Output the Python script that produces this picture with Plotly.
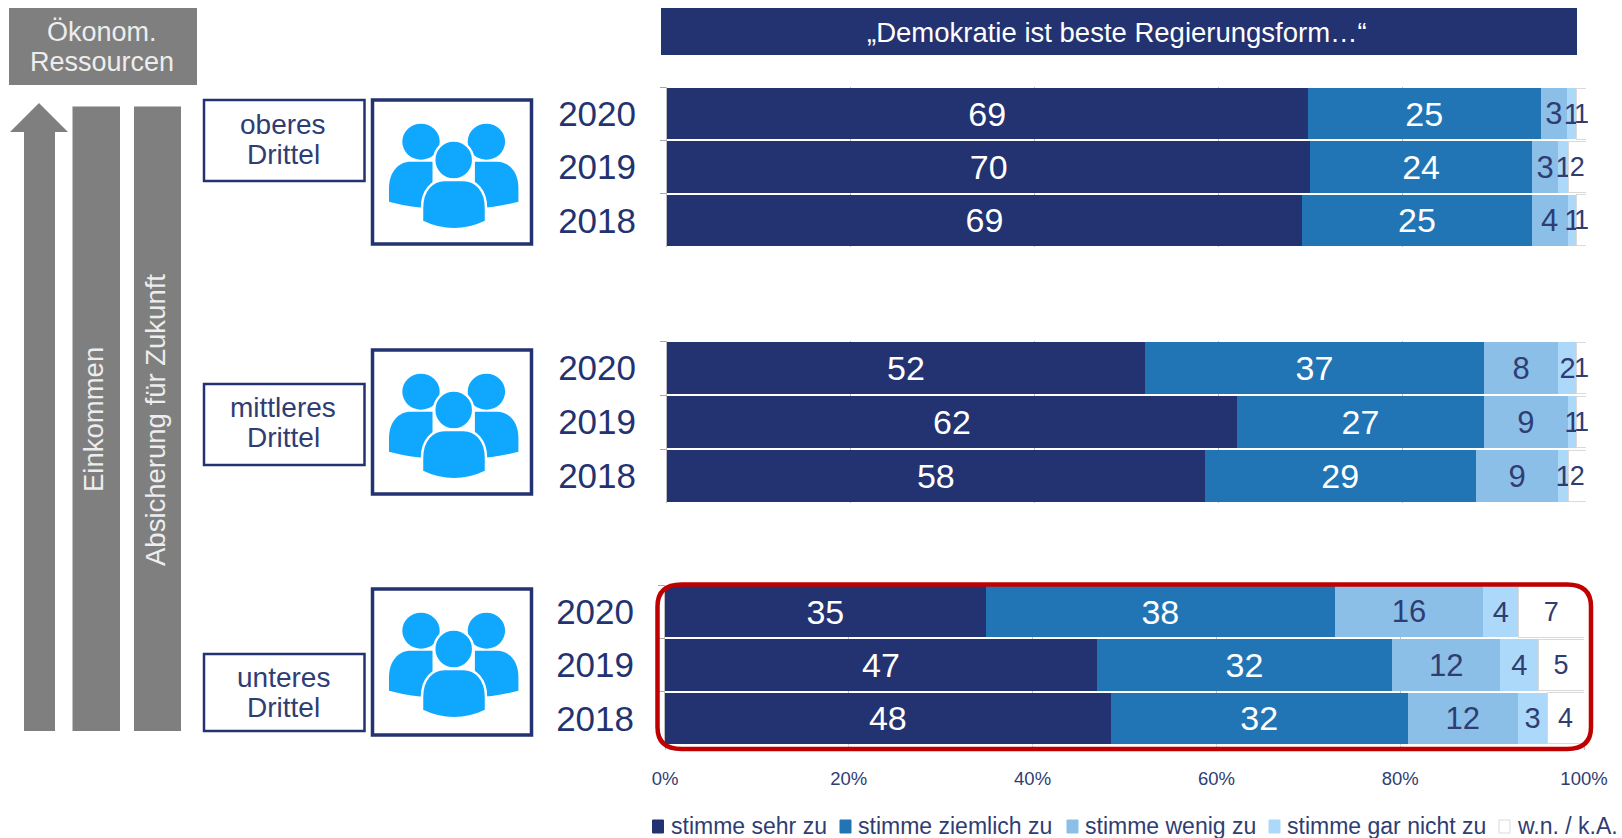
import plotly.graph_objects as go

W, H = 1622, 838
FONT = "Liberation Sans"
NAVY = "#233270"
TEXT = "#2F3D73"
GREY = "#7F7F7F"
RED = "#C00000"
ICON = "#10A8FF"

years = ["2020", "2019", "2018"]
series_names = ["stimme sehr zu", "stimme ziemlich zu", "stimme wenig zu", "stimme gar nicht zu", "w.n. / k.A."]
series_colors = ["#233270", "#2275B5", "#8CBFE8", "#ACD9FA", "#FFFFFF"]
label_colors = ["#FFFFFF", "#FFFFFF", TEXT, TEXT, TEXT]
label_sizes = [34, 34, 31, 29, 27]
x_ticks = [0, 20, 40, 60, 80, 100]
x_ticktext = ["0%", "20%", "40%", "60%", "80%", "100%"]

# values per year; labels are the printed numbers
top_sehr = [69.7, 70.0, 69.1]
top_ziemlich = [25.4, 24.1, 25.0]
top_wenig = [2.8, 2.9, 3.9]
top_gar = [1.1, 1.1, 1.0]
top_wn = [1.0, 1.9, 1.0]
top_labels = [[69, 70, 69], [25, 24, 25], [3, 3, 4], [1, 1, 1], [1, 2, 1]]

mid_sehr = [52.0, 62.0, 58.5]
mid_ziemlich = [36.9, 26.9, 29.5]
mid_wenig = [8.1, 9.1, 9.0]
mid_gar = [2.0, 1.0, 1.1]
mid_wn = [1.0, 1.0, 1.9]
mid_labels = [[52, 62, 58], [37, 27, 29], [8, 9, 9], [2, 1, 1], [1, 1, 2]]

low_sehr = [34.9, 47.0, 48.5]
low_ziemlich = [38.0, 32.1, 32.3]
low_wenig = [16.1, 11.8, 12.0]
low_gar = [3.9, 4.1, 3.2]
low_wn = [7.1, 5.0, 4.0]
low_labels = [[35, 47, 48], [38, 32, 32], [16, 12, 12], [4, 4, 3], [7, 5, 4]]

panels = [
    ([top_sehr, top_ziemlich, top_wenig, top_gar, top_wn], top_labels, 667, 1586, 87, 247),
    ([mid_sehr, mid_ziemlich, mid_wenig, mid_gar, mid_wn], mid_labels, 667, 1586, 341, 503),
    ([low_sehr, low_ziemlich, low_wenig, low_gar, low_wn], low_labels, 665, 1584, 585, 745),
]


def px(x):
    return x / W


def py(y):
    return 1 - y / H


fig = go.Figure()
layout_axes = {}
for p, (vals, labels, x0, x1, y0, y1) in enumerate(panels):
    suffix = "" if p == 0 else str(p + 1)
    last = p == 2
    for s, name in enumerate(series_names):
        fig.add_trace(go.Bar(
            y=years, x=vals[s], name=name, orientation="h",
            xaxis="x" + suffix, yaxis="y" + suffix, showlegend=False,
            marker=dict(color=series_colors[s],
                        line=dict(color="#D9D9D9" if s == 4 else series_colors[s], width=1 if s == 4 else 0)),
            text=[str(v) for v in labels[s]], textposition="inside", insidetextanchor="middle",
            constraintext="none", cliponaxis=False, textangle=0,
            insidetextfont=dict(family=FONT, size=label_sizes[s], color=label_colors[s]),
            hoverinfo="x+y+name",
        ))
    layout_axes["xaxis" + suffix] = dict(
        domain=[px(x0), px(x1)], range=[0, 100], anchor="y" + suffix, tickvals=x_ticks, ticktext=x_ticktext,
        showgrid=True, gridcolor="#BFBFBF", gridwidth=1, zeroline=False, showline=False, automargin=False,
        showticklabels=last, ticks="outside" if last else "", ticklen=4, tickcolor="#BFBFBF",
        ticklabelstandoff=13, tickfont=dict(family=FONT, size=18.5, color=TEXT),
    )
    layout_axes["yaxis" + suffix] = dict(
        domain=[py(y1), py(y0)], type="category", categoryorder="array", categoryarray=years,
        autorange="reversed", anchor="x" + suffix, tickson="boundaries", ticks="outside", ticklen=6,
        tickcolor="#A6A6A6", showline=True, linecolor="#BFBFBF", linewidth=1, showgrid=False, zeroline=False,
        automargin=False, ticklabelstandoff=23, tickfont=dict(family=FONT, size=35, color=NAVY),
    )

shapes = []
annotations = []


def rect(x0, y0, x1, y1, fill, line=None, lw=0):
    shapes.append(dict(type="rect", xref="paper", yref="paper", x0=px(x0), x1=px(x1), y0=py(y0), y1=py(y1),
                       fillcolor=fill, line=dict(color=line or fill, width=lw), layer="above"))


def path(points, fill, line=None, lw=0):
    """points: list of SVG commands with pixel pairs."""
    out = []
    for cmd, *coords in points:
        pairs = [f"{px(coords[i]):.5f},{py(coords[i + 1]):.5f}" for i in range(0, len(coords), 2)]
        out.append(cmd + " ".join(pairs))
    shapes.append(dict(type="path", xref="paper", yref="paper", path=" ".join(out) + " Z",
                       fillcolor=fill, line=dict(color=line or fill, width=lw), layer="above"))


def ellipse(cx, cy, rx, ry, fill, line=None, lw=0):
    shapes.append(dict(type="circle", xref="paper", yref="paper", x0=px(cx - rx), x1=px(cx + rx),
                       y0=py(cy + ry), y1=py(cy - ry), fillcolor=fill,
                       line=dict(color=line or fill, width=lw), layer="above"))


def text(x, y, s, size, color, anchor="center", angle=0):
    annotations.append(dict(xref="paper", yref="paper", x=px(x), y=py(y), text=s, showarrow=False,
                            xanchor=anchor, yanchor="middle", textangle=angle,
                            font=dict(family=FONT, size=size, color=color)))


def people(ox, oy):
    for m in (0, 1):
        def fx(v):
            return ox + (162.4 - v if m else v)
        path([("M", fx(16.5), oy + 101.7), ("L", fx(16.5), oy + 88),
              ("C", fx(16.5), oy + 72, fx(26), oy + 61.7, fx(38), oy + 61.7),
              ("L", fx(60), oy + 61.7), ("L", fx(60), oy + 108), ("Q", fx(40), oy + 108, fx(16.5), oy + 101.7)], ICON)
        ellipse(fx(48.5), oy + 41.7, 18.7, 18, ICON)
    ellipse(ox + 81.2, oy + 60, 19.5, 19.5, ICON, "#FFFFFF", 2.5)
    path([("M", ox + 49.5, oy + 121.7), ("L", ox + 49.5, oy + 108),
          ("C", ox + 49.5, oy + 90, ox + 60, oy + 80, ox + 72, oy + 80),
          ("L", ox + 91, oy + 80), ("C", ox + 103, oy + 80, ox + 113.5, oy + 90, ox + 113.5, oy + 108),
          ("L", ox + 113.5, oy + 121.7), ("Q", ox + 81.5, oy + 137, ox + 49.5, oy + 121.7)], ICON, "#FFFFFF", 2.5)


# left column
rect(9, 8, 197, 85, GREY)
text(102, 32, "Ökonom.", 27, "#EDEDED")
text(102, 62, "Ressourcen", 27, "#EDEDED")
path([("M", 39, 103), ("L", 68, 132), ("L", 55, 132), ("L", 55, 731), ("L", 24, 731), ("L", 24, 132), ("L", 10, 132)], GREY)
rect(72.5, 106.5, 120, 731, GREY)
rect(134, 106.5, 181, 731, GREY)
text(93, 420, "Einkommen", 27.5, "#EDEDED", angle=-90)
text(155, 420, "Absicherung für Zukunft", 27.5, "#EDEDED", angle=-90)

# group boxes
rect(204, 100, 364.5, 181, "#FFFFFF", NAVY, 2.5)
text(283, 125, "oberes", 28, TEXT)
text(283, 154, "Drittel", 28, TEXT)
rect(204, 384, 364.5, 465, "#FFFFFF", NAVY, 2.5)
text(283, 407.5, "mittleres", 28, TEXT)
text(283, 437.5, "Drittel", 28, TEXT)
rect(204, 654, 364.5, 731, "#FFFFFF", NAVY, 2.5)
text(283, 677.5, "unteres", 28, TEXT)
text(283, 707.5, "Drittel", 28, TEXT)

for top, bottom in ((100, 244), (350, 494), (589, 735)):
    rect(372.5, top, 531.5, bottom, "#FFFFFF", NAVY, 3.5)
    people(372.5, top)

# heading
rect(661, 8, 1577, 55, NAVY)
text(1117, 32, "„Demokratie ist beste Regierungsform…“", 27.5, "#FFFFFF")

# highlight around the lowest panel
hx0, hx1, hy0, hy1, hr, hv = 657.5, 1591, 584.5, 749, 24, 22
shapes.append(dict(
    type="path", xref="paper", yref="paper", layer="above", line=dict(color=RED, width=4.5),
    path=(f"M{px(hx0 + hr):.5f},{py(hy0):.5f} L{px(hx1 - hr):.5f},{py(hy0):.5f} "
          f"Q{px(hx1):.5f},{py(hy0):.5f} {px(hx1):.5f},{py(hy0 + hv):.5f} "
          f"L{px(hx1):.5f},{py(hy1 - hv):.5f} Q{px(hx1):.5f},{py(hy1):.5f} {px(hx1 - hr):.5f},{py(hy1):.5f} "
          f"L{px(hx0 + hr):.5f},{py(hy1):.5f} Q{px(hx0):.5f},{py(hy1):.5f} {px(hx0):.5f},{py(hy1 - hv):.5f} "
          f"L{px(hx0):.5f},{py(hy0 + hv):.5f} Q{px(hx0):.5f},{py(hy0):.5f} {px(hx0 + hr):.5f},{py(hy0):.5f} Z"),
))

# legend
legend_x = [652.5, 840, 1067, 1269, 1499]
for name, color, lx in zip(series_names, series_colors, legend_x):
    rect(lx, 820, lx + 11, 833, color, "#D9D9D9" if color == "#FFFFFF" else color, 1)
    text(lx + 16, 826, name, 23, TEXT, anchor="left")

fig.update_layout(
    width=W, height=H, margin=dict(l=0, r=0, t=0, b=0, pad=0, autoexpand=False), autosize=False,
    paper_bgcolor="#FFFFFF", plot_bgcolor="#FFFFFF", barmode="stack", bargap=0.04,
    font=dict(family=FONT, color=TEXT), shapes=shapes, annotations=annotations, showlegend=False,
    **layout_axes,
)
fig.write_html("out.html", config={"displayModeBar": False},
               post_script="document.body.style.margin='0';document.body.style.overflow='hidden';")
